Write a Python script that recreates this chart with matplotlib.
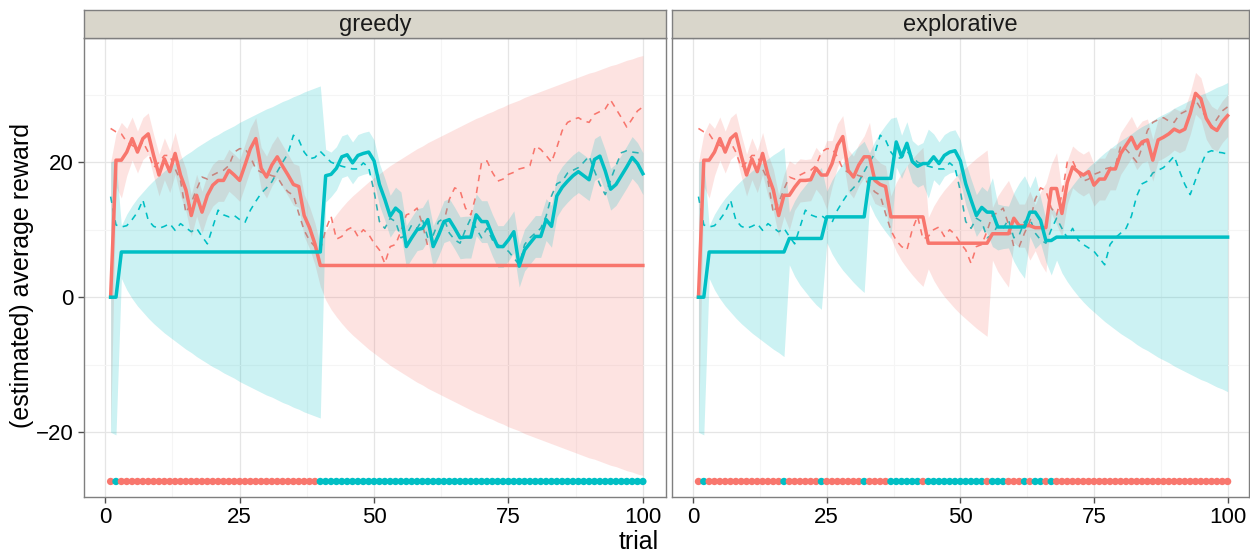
import numpy as np
import matplotlib.pyplot as plt

plt.rcParams['font.family'] = ['Liberation Sans', 'DejaVu Sans']

RED = "#F8766D"
CYAN = "#00BFC4"

trial = np.arange(1, 101)

# true mean reward of each arm (dashed), same environment in both panels
red_true = [25.0, 24.5, 24.2, 23.0, 22.5, 22.0, 23.0, 21.5, 19.2, 20.0,
            21.0, 21.0, 19.0, 17.3, 12.5, 14.0, 16.0, 17.8, 17.5, 18.1,
            18.5, 18.8, 19.5, 21.5, 22.0, 22.0, 20.8, 19.0, 18.5, 18.3,
            18.0, 17.8, 16.5, 15.6, 15.1, 12.4, 9.9, 8.4, 7.5, 7.0,
            10.0, 12.0, 8.6, 9.0, 10.0, 10.4, 9.0, 10.0, 9.3, 8.0,
            7.0, 5.0, 7.5, 7.8, 9.8, 12.2, 12.5, 13.2, 10.8, 7.5,
            7.5, 9.5, 11.2, 14.5, 16.2, 15.8, 13.2, 12.2, 15.2, 20.0,
            20.2, 18.5, 17.2, 17.5, 18.2, 18.5, 19.0, 19.2, 19.5, 22.4,
            21.9, 21.0, 20.0, 22.2, 24.7, 25.9, 26.3, 26.6, 26.1, 25.9,
            27.1, 27.5, 27.9, 29.2, 27.9, 26.6, 25.2, 26.4, 27.6, 28.2]
cyan_true = [14.9, 10.7, 10.4, 10.6, 11.5, 12.6, 14.4, 11.4, 10.5, 10.2,
             10.5, 10.9, 9.9, 10.9, 10.3, 9.7, 10.2, 9.0, 7.9, 10.4,
             12.9, 12.2, 11.9, 12.1, 11.5, 11.1, 12.9, 14.2, 15.4, 16.2,
             17.1, 18.6, 20.0, 21.3, 24.0, 23.3, 21.5, 20.5, 20.7, 21.6,
             20.8, 20.0, 19.7, 19.4, 19.2, 19.0, 19.0, 19.9, 19.2, 15.7,
             11.2, 10.2, 11.7, 11.2, 8.8, 9.2, 10.7, 10.2, 11.5, 8.8,
             9.2, 11.2, 11.7, 9.5, 8.5, 8.0, 10.0, 11.7, 10.2, 8.8,
             10.2, 8.5, 7.8, 7.3, 6.8, 5.8, 4.8, 7.8, 8.8, 9.5,
             10.2, 12.0, 15.0, 16.8, 17.2, 18.4, 18.8, 19.2, 20.0, 20.9,
             18.7, 16.7, 15.2, 17.4, 19.5, 21.4, 21.7, 21.5, 21.4, 21.2]

# arm chosen on each trial (R = red arm, C = cyan arm)
greedy_choice = ("RCRRRRRRRRRRRRRRRRRRRRRRR"
                 "RRRRRRRRRRRRRRCCCCCCCCCCC"
                 "CCCCCCCCCCCCCCCCCCCCCCCCC"
                 "CCCCCCCCCCCCCCCCCCCCCCCCC")
explore_choice = ("RCRRRRRRRRRRRRRRCRRRRRRCR"
                  "RRRRRRCRRRRCCCCCCRCCCCCCC"
                  "CCCCRCCCRRRCRCCRCRRRRRRRR"
                  "RRRRRRRRRRRRRRRRRRRRRRRRR")

# estimated mean reward (solid) and its sd (ribbon), greedy panel
red_greedy = [0.0, 20.3, 20.3, 21.5, 23.5, 21.5, 23.5, 24.2, 21.0, 18.1,
              20.5, 18.6, 21.3, 18.1, 15.9, 12.1, 15.1, 12.6, 15.1, 16.6,
              17.3, 17.3, 18.8, 18.1, 17.3, 19.6, 22.0, 23.5, 19.1, 17.8,
              19.6, 20.8, 19.4, 18.1, 16.7, 16.4, 12.1, 10.3, 7.9, 4.7,
              4.7, 4.7, 4.7, 4.7, 4.7, 4.7, 4.7, 4.7, 4.7, 4.7,
              4.7, 4.7, 4.7, 4.7, 4.7, 4.7, 4.7, 4.7, 4.7, 4.7,
              4.7, 4.7, 4.7, 4.7, 4.7, 4.7, 4.7, 4.7, 4.7, 4.7,
              4.7, 4.7, 4.7, 4.7, 4.7, 4.7, 4.7, 4.7, 4.7, 4.7,
              4.7, 4.7, 4.7, 4.7, 4.7, 4.7, 4.7, 4.7, 4.7, 4.7,
              4.7, 4.7, 4.7, 4.7, 4.7, 4.7, 4.7, 4.7, 4.7, 4.7]
red_greedy_sd = [20.0, 3.9, 5.6, 3.5, 3.2, 3.1, 3.1, 3.1, 3.1, 3.1,
                 3.1, 3.1, 3.1, 3.1, 3.1, 3.1, 3.1, 3.1, 3.1, 3.1,
                 3.1, 3.1, 3.1, 3.1, 3.1, 3.1, 3.1, 3.1, 3.1, 3.1,
                 3.1, 3.1, 3.1, 3.1, 3.1, 3.1, 3.1, 3.1, 3.1, 3.1,
                 5.1, 6.5, 7.6, 8.6, 9.5, 10.3, 11.0, 11.7, 12.4, 13.0,
                 13.6, 14.2, 14.8, 15.3, 15.8, 16.3, 16.8, 17.3, 17.7, 18.2,
                 18.6, 19.0, 19.4, 19.8, 20.2, 20.6, 21.0, 21.4, 21.8, 22.1,
                 22.5, 22.8, 23.2, 23.5, 23.9, 24.2, 24.5, 24.9, 25.2, 25.5,
                 25.8, 26.1, 26.4, 26.7, 27.0, 27.3, 27.6, 27.9, 28.2, 28.5,
                 28.7, 29.0, 29.3, 29.6, 29.8, 30.1, 30.4, 30.6, 30.9, 31.1]
cyan_greedy = [0.0, 0.0, 6.7, 6.7, 6.7, 6.7, 6.7, 6.7, 6.7, 6.7,
               6.7, 6.7, 6.7, 6.7, 6.7, 6.7, 6.7, 6.7, 6.7, 6.7,
               6.7, 6.7, 6.7, 6.7, 6.7, 6.7, 6.7, 6.7, 6.7, 6.7,
               6.7, 6.7, 6.7, 6.7, 6.7, 6.7, 6.7, 6.7, 6.7, 6.7,
               18.0, 18.2, 19.1, 20.8, 21.1, 19.9, 21.0, 21.3, 21.5, 20.2,
               16.7, 14.5, 12.0, 13.2, 12.5, 7.5, 8.8, 10.0, 10.2, 11.5,
               7.5, 9.2, 11.2, 11.5, 10.2, 8.8, 8.9, 8.9, 12.2, 11.2,
               11.2, 9.2, 7.5, 7.5, 8.5, 9.7, 4.6, 7.0, 8.0, 9.0,
               9.0, 11.5, 10.5, 15.0, 16.3, 17.2, 18.0, 18.6, 18.0, 17.4,
               20.4, 20.9, 18.7, 16.0, 16.7, 18.0, 19.3, 20.7, 19.8, 18.3]
cyan_greedy_sd = [20.0, 20.4, 3.9, 5.6, 6.9, 8.0, 8.9, 9.8, 10.6, 11.3,
                  12.0, 12.6, 13.2, 13.8, 14.4, 14.9, 15.5, 16.0, 16.5, 17.0,
                  17.4, 17.9, 18.3, 18.7, 19.2, 19.6, 20.0, 20.4, 20.8, 21.2,
                  21.5, 21.9, 22.3, 22.6, 23.0, 23.3, 23.7, 24.0, 24.3, 24.6,
                  3.9, 3.3, 3.2, 3.1, 3.1, 3.1, 3.1, 3.1, 3.1, 3.1,
                  3.1, 3.1, 3.1, 3.1, 3.1, 3.1, 3.1, 3.1, 3.1, 3.1,
                  3.1, 3.1, 3.1, 3.1, 3.1, 3.1, 3.1, 3.1, 3.1, 3.1,
                  3.1, 3.1, 3.1, 3.1, 3.1, 3.1, 3.1, 3.1, 3.1, 3.1,
                  3.1, 3.1, 3.1, 3.1, 3.1, 3.1, 3.1, 3.1, 3.1, 3.1,
                  3.1, 3.1, 3.1, 3.1, 3.1, 3.1, 3.1, 3.1, 3.1, 3.1]

# explorative panel
red_explore = [0.0, 20.3, 20.3, 21.5, 23.5, 21.5, 23.5, 24.2, 21.0, 18.1,
               20.5, 18.6, 21.3, 18.1, 15.9, 12.1, 15.1, 15.1, 16.3, 17.3,
               17.3, 17.4, 19.1, 18.1, 18.1, 19.8, 22.5, 23.8, 18.8, 17.8,
               19.6, 20.8, 20.8, 17.3, 16.7, 16.4, 11.9, 11.9, 11.9, 11.9,
               11.9, 11.9, 11.9, 8.0, 8.0, 8.0, 8.0, 8.0, 8.0, 8.0,
               8.0, 8.0, 8.0, 8.0, 8.0, 9.4, 9.4, 9.4, 9.4, 11.7,
               10.6, 10.6, 10.6, 10.3, 10.3, 10.3, 16.1, 16.1, 12.4, 17.0,
               19.3, 18.6, 18.1, 18.6, 16.6, 17.5, 17.5, 19.0, 19.0, 21.3,
               22.5, 23.7, 22.0, 23.0, 23.3, 20.3, 23.3, 23.7, 24.2, 24.9,
               24.5, 24.9, 27.2, 30.2, 29.4, 26.5, 25.2, 24.7, 26.0, 26.9]
red_explore_sd = [20.0, 3.9, 5.6, 3.5, 3.2, 3.1, 3.1, 3.1, 3.1, 3.1,
                  3.1, 3.1, 3.1, 3.1, 3.1, 3.1, 3.1, 5.1, 3.4, 3.2,
                  3.1, 3.1, 3.1, 3.1, 5.1, 3.4, 3.2, 3.1, 3.1, 3.1,
                  3.1, 3.1, 5.1, 3.4, 3.2, 3.1, 3.1, 5.1, 6.5, 7.6,
                  8.6, 9.5, 10.3, 3.8, 5.5, 6.8, 7.9, 8.8, 9.7, 10.5,
                  11.2, 11.9, 12.6, 13.2, 13.8, 3.9, 5.6, 6.8, 7.9, 3.6,
                  3.2, 3.2, 5.1, 3.4, 5.3, 6.6, 3.6, 5.3, 3.4, 3.2,
                  3.1, 3.1, 3.1, 3.1, 3.1, 3.1, 3.1, 3.1, 3.1, 3.1,
                  3.1, 3.1, 3.1, 3.1, 3.1, 3.1, 3.1, 3.1, 3.1, 3.1,
                  3.1, 3.1, 3.1, 3.1, 3.1, 3.1, 3.1, 3.1, 3.1, 3.1]
cyan_explore = [0.0, 0.0, 6.7, 6.7, 6.7, 6.7, 6.7, 6.7, 6.7, 6.7,
                6.7, 6.7, 6.7, 6.7, 6.7, 6.7, 6.7, 8.7, 8.7, 8.7,
                8.7, 8.7, 8.7, 8.7, 11.9, 11.9, 11.9, 11.9, 11.9, 11.9,
                11.9, 11.9, 17.6, 17.6, 17.6, 17.6, 17.6, 23.0, 20.8, 22.8,
                20.1, 19.4, 19.8, 19.8, 20.8, 19.8, 21.0, 21.5, 21.7, 20.2,
                16.8, 14.4, 12.1, 13.3, 12.6, 12.6, 10.4, 10.4, 10.4, 10.4,
                10.4, 10.4, 12.6, 12.6, 11.4, 8.4, 8.4, 8.9, 8.9, 8.9,
                8.9, 8.9, 8.9, 8.9, 8.9, 8.9, 8.9, 8.9, 8.9, 8.9,
                8.9, 8.9, 8.9, 8.9, 8.9, 8.9, 8.9, 8.9, 8.9, 8.9,
                8.9, 8.9, 8.9, 8.9, 8.9, 8.9, 8.9, 8.9, 8.9, 8.9]
cyan_explore_sd = [20.0, 20.4, 3.9, 5.6, 6.9, 8.0, 8.9, 9.8, 10.6, 11.3,
                   12.0, 12.6, 13.2, 13.8, 14.4, 14.9, 15.5, 3.9, 5.6, 6.9,
                   7.9, 8.9, 9.8, 10.5, 3.8, 5.5, 6.8, 7.9, 8.8, 9.7,
                   10.5, 11.2, 3.8, 5.5, 6.8, 7.9, 8.9, 3.7, 3.2, 3.2,
                   3.1, 3.1, 3.1, 5.1, 3.4, 3.2, 3.1, 3.1, 3.1, 3.1,
                   3.1, 3.1, 3.1, 3.1, 3.1, 5.1, 3.4, 3.2, 3.1, 5.1,
                   6.5, 7.6, 3.6, 5.4, 3.4, 3.2, 5.1, 3.4, 5.3, 6.6,
                   7.7, 8.7, 9.6, 10.4, 11.1, 11.8, 12.5, 13.1, 13.7, 14.3,
                   14.8, 15.3, 15.9, 16.4, 16.8, 17.3, 17.8, 18.2, 18.6, 19.1,
                   19.5, 19.9, 20.3, 20.7, 21.1, 21.4, 21.8, 22.2, 22.5, 22.9]

choice_y = -27.3

panels = [
    ("greedy", greedy_choice, red_greedy, red_greedy_sd, cyan_greedy, cyan_greedy_sd),
    ("explorative", explore_choice, red_explore, red_explore_sd, cyan_explore, cyan_explore_sd),
]

W, H = 1250, 552
fig = plt.figure(figsize=(W / 100, H / 100), dpi=100)
fig.patch.set_facecolor("white")

# panel boxes in pixels: (left, right, xmax)
boxes = [(84, 666, 104.3), (672, 1249, 104.0)]
top, bottom, strip_top = 38, 497, 10

for i, (name, choice, red_est, red_sd, cyan_est, cyan_sd) in enumerate(panels):
    x0, x1, xmax = boxes[i]
    ax = fig.add_axes([x0 / W, (H - bottom) / H, (x1 - x0) / W, (bottom - top) / H])

    red_est = np.array(red_est)
    cyan_est = np.array(cyan_est)
    red_sd = np.array(red_sd)
    cyan_sd = np.array(cyan_sd)

    ax.plot(trial, red_true, color=RED, lw=1.15, ls=(0, (4, 3.5)), zorder=2)
    ax.plot(trial, cyan_true, color=CYAN, lw=1.15, ls=(0, (4, 3.5)), zorder=2)
    ax.fill_between(trial, red_est - red_sd, red_est + red_sd, color=RED, alpha=0.2, lw=0, zorder=3)
    ax.fill_between(trial, cyan_est - cyan_sd, cyan_est + cyan_sd, color=CYAN, alpha=0.2, lw=0, zorder=3)
    ax.plot(trial, red_est, color=RED, lw=2.5, zorder=4, solid_joinstyle="round")
    ax.plot(trial, cyan_est, color=CYAN, lw=2.5, zorder=4, solid_joinstyle="round")

    dot_colors = [RED if c == "R" else CYAN for c in choice]
    ax.scatter(trial, [choice_y] * len(trial), c=dot_colors, s=28, lw=0, zorder=5)

    ax.set_xlim(-3.95, xmax)
    ax.set_ylim(-29.6, 38.4)
    ax.set_xticks([0, 25, 50, 75, 100])
    ax.set_xticks([12.5, 37.5, 62.5, 87.5], minor=True)
    ax.set_yticks([-20, 0, 20])
    ax.set_yticks([-10, 10, 30], minor=True)
    ax.grid(which="major", color="#E5E5E5", lw=0.9, zorder=0)
    ax.grid(which="minor", color="#F5F5F5", lw=0.8, zorder=0)
    ax.set_axisbelow(True)
    for s in ax.spines.values():
        s.set_color("#7F7F7F")
        s.set_linewidth(1.0)
    ax.tick_params(which="major", direction="out", length=4.5, width=1.0,
                   color="#4D4D4D", labelsize=16, labelcolor="black", pad=3)
    ax.tick_params(which="minor", length=0)
    if i > 0:
        ax.tick_params(axis="y", which="both", left=False, labelleft=False)

    sax = fig.add_axes([x0 / W, (H - top) / H, (x1 - x0) / W, (top - strip_top) / H])
    sax.set_facecolor("#D9D6CB")
    sax.set_xticks([])
    sax.set_yticks([])
    for s in sax.spines.values():
        s.set_color("#7F7F7F")
        s.set_linewidth(1.0)
    sax.text(0.5, 0.45, name, ha="center", va="center", fontsize=17,
             color="#1A1A1A", transform=sax.transAxes)

fig.text(639 / W, 3 / H, "trial", ha="center", va="baseline", fontsize=18)
fig.text(22 / W, 0.5, "(estimated) average reward", ha="center", va="center",
         rotation=90, fontsize=18)

fig.savefig("out.png", dpi=100)
